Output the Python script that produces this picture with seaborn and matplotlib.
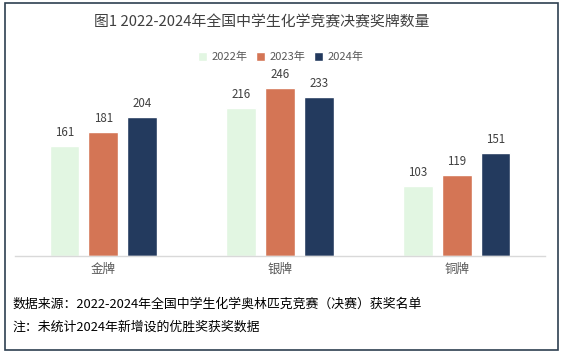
import pandas as pd
import matplotlib.pyplot as plt
import matplotlib.patches as mpatches
import seaborn as sns

# data
medals = ["金牌", "银牌", "铜牌"]
years = ["2022年", "2023年", "2024年"]
counts_2022 = [161, 216, 103]
counts_2023 = [181, 246, 119]
counts_2024 = [204, 233, 151]
colors = ["#e2f6e2", "#d47555", "#233a5e"]

title = "图1 2022-2024年全国中学生化学竞赛决赛奖牌数量"
note1 = "数据来源：2022-2024年全国中学生化学奥林匹克竞赛（决赛）获奖名单"
note2 = "注：未统计2024年新增设的优胜奖获奖数据"

rows = []
for yr, vals in zip(years, [counts_2022, counts_2023, counts_2024]):
    for m, v in zip(medals, vals):
        rows.append({"奖牌": m, "年份": yr, "数量": v})
df = pd.DataFrame(rows)

sns.set_theme(style="white")
plt.rcParams["font.family"] = ["Noto Sans CJK SC", "DejaVu Sans"]

W, H = 563, 356
fig = plt.figure(figsize=(W / 100, H / 100), dpi=100)
fig.patch.set_facecolor("white")

# axes placed in pixel terms
x0, x1, ybase, ytop = 15, 545, 256, 70
ax = fig.add_axes([x0 / W, (H - ybase) / H, (x1 - x0) / W, (ybase - ytop) / H])

sns.barplot(data=df, x="奖牌", y="数量", hue="年份", hue_order=years,
            palette=colors, width=0.66, gap=0.23, saturation=1, ax=ax)

ax.set_ylim(0, 272)
ax.set_xlim(-0.5, 2.5)
for c in ax.containers:
    ax.bar_label(c, padding=5, fontsize=8.3, color="#404040")

ax.set_xlabel("")
ax.set_ylabel("")
ax.set_yticks([])
ax.tick_params(axis="x", length=0, pad=5, labelsize=9, labelcolor="#595959")
for s in ["top", "left", "right"]:
    ax.spines[s].set_visible(False)
ax.spines["bottom"].set_color("#d9d9d9")
ax.spines["bottom"].set_linewidth(1)
ax.set_facecolor("none")

handles, labels = ax.get_legend_handles_labels()
ax.legend_.remove()
fig.legend(handles, labels, loc="center", bbox_to_anchor=(281 / W, 1 - 57 / H),
           ncol=3, frameon=False, fontsize=8, handlelength=0.8, handleheight=0.8,
           handletextpad=0.4, columnspacing=0.8, labelcolor="#595959")

fig.text(262 / W, 1 - 22 / H, title, ha="center", va="center",
         fontsize=10.7, color="#404040", fontweight="medium")
fig.text(12 / W, 1 - 304 / H, note1, ha="left", va="center",
         fontsize=9.3, color="black", style="italic")
fig.text(12 / W, 1 - 327 / H, note2, ha="left", va="center",
         fontsize=9.3, color="black", style="italic")

# outer frame
fig.patches.append(mpatches.Rectangle((5 / W, 1 - 350 / H), 553 / W, 347 / H,
                                      transform=fig.transFigure, fill=False,
                                      edgecolor="#2e3f50", linewidth=1.2))

fig.savefig("out.png", dpi=100)
